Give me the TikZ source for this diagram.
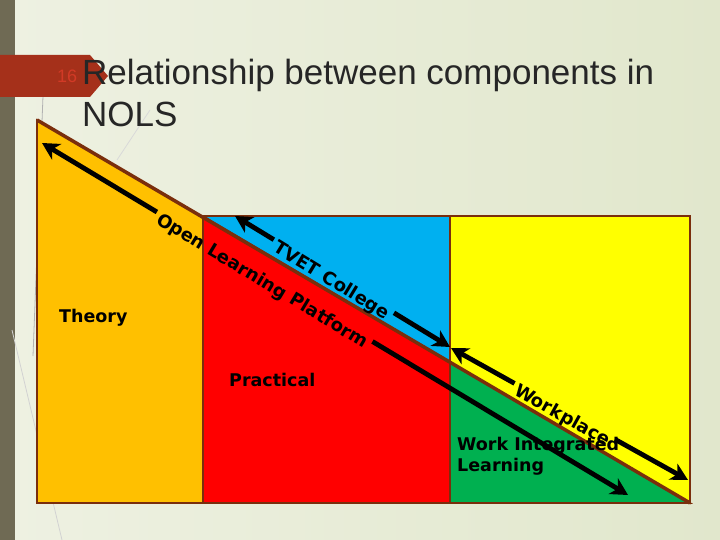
\documentclass[tikz,border=0pt]{standalone}
\usepackage{fontspec}
\setmainfont{Liberation Sans}
\newfontfamily\tagfont{DejaVu Sans}
\usetikzlibrary{arrows.meta,positioning}
\definecolor{slidebg}{HTML}{EEF1E2}
\definecolor{slidebgb}{HTML}{E1E7CC}
\definecolor{stripe}{HTML}{6F6A54}
\definecolor{tabred}{HTML}{A5301A}
\definecolor{numred}{HTML}{D23A26}
\definecolor{edgebrown}{HTML}{7A2E0C}
\definecolor{theorycol}{HTML}{FFC000}
\definecolor{practcol}{HTML}{FF0000}
\definecolor{tvetcol}{HTML}{00B0F0}
\definecolor{workcol}{HTML}{FFFF00}
\definecolor{wilcol}{HTML}{00B050}
\tikzset{
  zone/.style={draw=edgebrown, line width=1.6pt, line join=miter},
  bigarrow/.style={line width=4.8pt, {Stealth[length=17pt,width=18pt,inset=5pt]}-},
  arrowtag/.style={font=\tagfont\bfseries\fontsize{18}{20}\selectfont, inner xsep=4pt, inner ysep=-3.5pt},
  zonetag/.style={font=\tagfont\bfseries\fontsize{17.5}{21}\selectfont, inner sep=0pt, align=left},
  wisp/.style={draw=gray!60, line width=0.8pt}
}
\newcommand{\tagarrow}[5]{\path (#2) -- node[sloped, pos=#4, arrowtag, anchor=north] (#1) {#5} (#3);
        \draw[bigarrow] (#2) -- (#1.north west);
        \draw[bigarrow] (#3) -- (#1.north east);}

\begin{document}
\begin{tikzpicture}[x=1pt, y=-1pt]

  \fill[left color=slidebg, right color=slidebgb] (0,0) rectangle (720,540);
  \useasboundingbox (0,0) rectangle (720,540);
  \fill[stripe] (0,0) rectangle (15,540);
  \draw[wisp] (43,96) -- (33,356);
  \draw[wisp, draw=gray!35] (12,330) -- (62,540);
  \draw[wisp, draw=gray!30] (150,110) -- (117,160);

  \fill[tabred] (0,55) -- (90,55) -- (108,76) -- (90,97) -- (0,97) -- cycle;
  \node[anchor=base west, inner sep=0pt, text=numred, font=\fontsize{18}{18}\selectfont] (num) at (57,83) {16};
  \node[anchor=base west, inner sep=0pt, text=black!85, font=\fontsize{35}{42}\selectfont] (title) at (82,85) {Relationship between components in};
  \node[anchor=base west, inner sep=0pt, text=black!85, font=\fontsize{35}{42}\selectfont] (title2) at (82,127) {NOLS};

  \draw[zone, fill=theorycol] (37,120) -- (203,217) -- (203,503) -- (37,503) -- cycle;
  \draw[zone, fill=practcol] (203,217) -- (450,362) -- (450,503) -- (203,503) -- cycle;
  \draw[zone, fill=wilcol] (450,362) -- (690,503) -- (450,503) -- cycle;
  \draw[zone, fill=tvetcol] (203,216) -- (450,216) -- (450,362) -- cycle;
  \draw[zone, fill=workcol] (450,216) -- (690,216) -- (690,503) -- (450,362) -- cycle;
  \draw[edgebrown, line width=3.5pt] (37,120) -- (690,503);

  \coordinate (olTop) at (42,143);
  \coordinate (olEnd) at (628,495);
  \coordinate (tvTop) at (235,216);
  \coordinate (tvEnd) at (450,347);
  \coordinate (wpTop) at (451,348);
  \coordinate (wpEnd) at (688,480);

  \tagarrow{openlearn}{olTop}{olEnd}{0.38}{Open Learning Platform}
  \tagarrow{tvet}{tvTop}{tvEnd}{0.46}{TVET College}
  \tagarrow{workplace}{wpTop}{wpEnd}{0.48}{Workplace}

  \node[zonetag, anchor=base west] (theory) at (59,322) {Theory};
  \node[zonetag, anchor=base west] (practical) at (229,386) {Practical};
  \node[zonetag, anchor=north west] (wil) at (457,437) {Work Integrated\\Learning};

\end{tikzpicture}
\end{document}
